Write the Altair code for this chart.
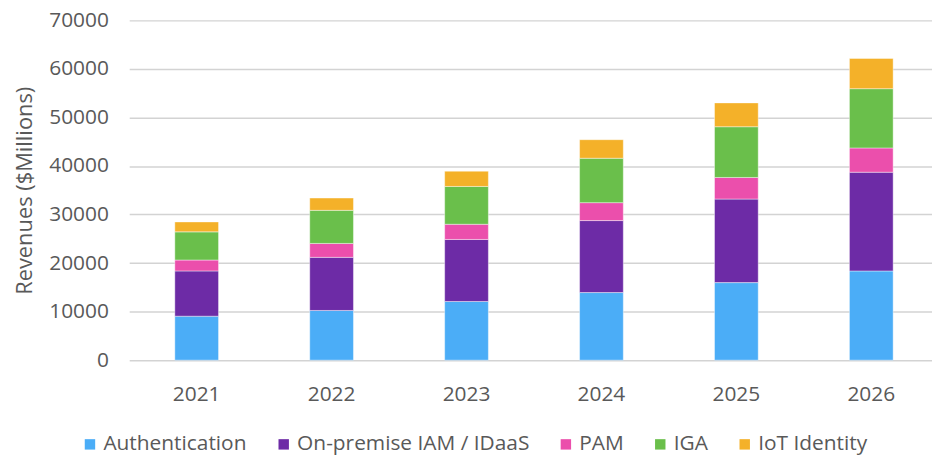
import altair as alt
import pandas as pd

years = ["2021", "2022", "2023", "2024", "2025", "2026"]
segments = ["Authentication", "On-premise IAM / IDaaS", "PAM", "IGA", "IoT Identity"]
colors = ["#4BADF7", "#6D2BA6", "#EB4FAC", "#6ABF4B", "#F4B129"]

authentication = [9060, 10240, 12090, 13930, 15980, 18380]
onprem_idaas = [9320, 10940, 12780, 14830, 17210, 20340]
pam = [2250, 2870, 3130, 3690, 4450, 5000]
iga = [5800, 6820, 7790, 9150, 10450, 12210]
iot_identity = [2050, 2530, 3140, 3820, 4910, 6230]

y_ticks = [0, 10000, 20000, 30000, 40000, 50000, 60000, 70000]

series = [authentication, onprem_idaas, pam, iga, iot_identity]
rows = []
for si, (name, vals) in enumerate(zip(segments, series)):
    for yr, v in zip(years, vals):
        rows.append({"Year": yr, "Segment": name, "Revenue": v, "order": si})
df = pd.DataFrame(rows)

FONT = "Open Sans"
GRAY = "#595959"

chart = alt.Chart(df).mark_bar(stroke="white", strokeWidth=0.6, strokeOpacity=0.7).encode(
    x=alt.X("Year:N", sort=years,
            scale=alt.Scale(paddingInner=0.676, paddingOuter=0.313, align=0.54),
            axis=alt.Axis(title=None, labelAngle=0, ticks=False, domain=False,
                          labelPadding=24, labelFontSize=21, labelColor=GRAY,
                          labelFont=FONT, grid=False)),
    y=alt.Y("Revenue:Q", stack="zero",
            scale=alt.Scale(domain=[0, 70000], nice=False),
            axis=alt.Axis(title="Revenues ($Millions)", values=y_ticks, format="d",
                          ticks=False, domain=False, labelPadding=21,
                          labelFontSize=21, labelColor=GRAY, labelFont=FONT,
                          gridColor="#d3d3d3", gridWidth=1.5,
                          titleFont=FONT, titleFontSize=22, titleColor=GRAY,
                          titleFontWeight="normal", titleAngle=-90,
                          titleX=-105, titleY=171, titleAlign="center",
                          titleBaseline="middle")),
    color=alt.Color("Segment:N", sort=segments,
                    scale=alt.Scale(domain=segments, range=colors),
                    legend=alt.Legend(title=None, orient="none", direction="horizontal",
                                      legendX=-50, legendY=416, padding=0,
                                      symbolType="square", symbolSize=110,
                                      symbolStrokeWidth=0, labelOffset=3,
                                      columnPadding=26, labelFont=FONT,
                                      labelFontSize=21, labelColor=GRAY,
                                      labelLimit=0)),
    order=alt.Order("order:Q", sort="ascending"),
).properties(
    width=808, height=342,
    autosize=alt.AutoSizeParams(type="none"),
    padding={"left": 122, "top": 11, "right": 0, "bottom": 96},
).configure_view(stroke=None)

chart.save("out.html", embed_options={"renderer": "svg", "actions": False})
